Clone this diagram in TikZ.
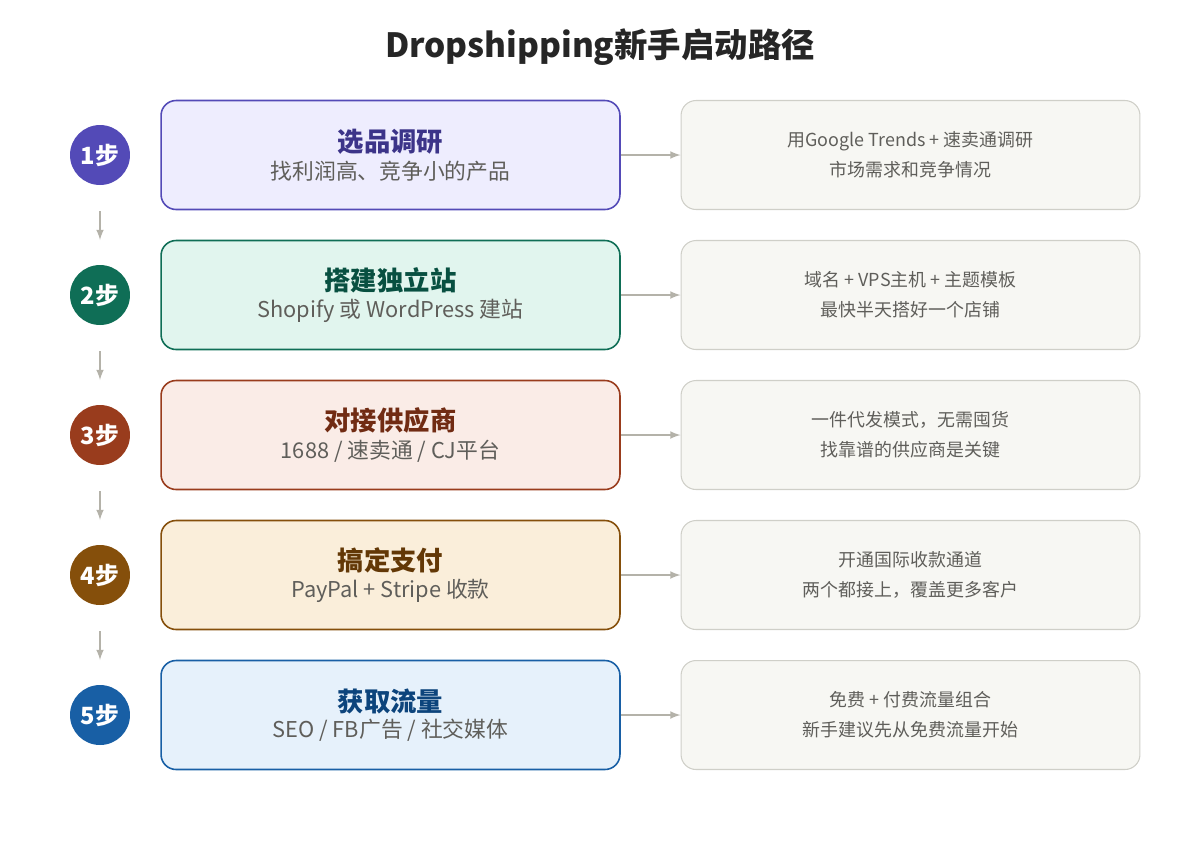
\documentclass[tikz,border=0pt]{standalone}
\usepackage{fontspec}
\setmainfont{Noto Sans CJK SC}
\usetikzlibrary{positioning}
\definecolor{pA}{HTML}{534AB7}\definecolor{pAf}{HTML}{EEEDFE}\definecolor{pAt}{HTML}{3C3489}
\definecolor{pB}{HTML}{0F6E56}\definecolor{pBf}{HTML}{E1F5EE}\definecolor{pBt}{HTML}{085041}
\definecolor{pC}{HTML}{993C1D}\definecolor{pCf}{HTML}{FAECE7}\definecolor{pCt}{HTML}{712B13}
\definecolor{pD}{HTML}{854F0B}\definecolor{pDf}{HTML}{FAEEDA}\definecolor{pDt}{HTML}{633806}
\definecolor{pE}{HTML}{185FA5}\definecolor{pEf}{HTML}{E6F1FB}\definecolor{pEt}{HTML}{0C447C}
\definecolor{note}{HTML}{F7F7F3}\definecolor{noteline}{HTML}{CFCFC8}
\definecolor{arr}{HTML}{B4B2A9}\definecolor{txt}{HTML}{5F5E5A}
\tikzset{
  stepdot/.style={circle, minimum size=1.2cm, inner sep=0pt, text=white, font=\fontsize{13.5}{15}\selectfont\bfseries},
  mainbox/.style={draw, rounded corners=0.3cm, line width=0.9pt, minimum width=9.18cm, minimum height=2.18cm, align=center},
  notebox/.style={draw=noteline, fill=note, rounded corners=0.3cm, line width=0.6pt, minimum width=9.18cm, minimum height=2.18cm, align=center, text=txt, font=\fontsize{10.2}{17}\selectfont},
  link/.style={draw=arr, line width=1pt, ->, >=latex},
}
\newcommand{\boxtext}[3]{{\color{#1}\fontsize{15}{18}\selectfont\bfseries #2}\\[3pt]{\color{txt}\fontsize{12.4}{15}\selectfont #3}}
\begin{document}
\begin{tikzpicture}[x=0.02cm,y=-0.02cm]
\useasboundingbox (0,0) rectangle (1200,850);
\node[font=\fontsize{19}{22}\selectfont\bfseries, text=black!85] (title) at (600,47) {Dropshipping新手启动路径};

\node[stepdot, fill=pA] (s1) at (100,155) {1步};
\node[stepdot, fill=pB] (s2) at (100,295) {2步};
\node[stepdot, fill=pC] (s3) at (100,435) {3步};
\node[stepdot, fill=pD] (s4) at (100,575) {4步};
\node[stepdot, fill=pE] (s5) at (100,715) {5步};

\node[mainbox, draw=pA, fill=pAf] (m1) at (390.5,155) {\boxtext{pAt}{选品调研}{找利润高、竞争小的产品}};
\node[mainbox, draw=pB, fill=pBf] (m2) at (390.5,295) {\boxtext{pBt}{搭建独立站}{Shopify 或 WordPress 建站}};
\node[mainbox, draw=pC, fill=pCf] (m3) at (390.5,435) {\boxtext{pCt}{对接供应商}{1688 / 速卖通 / CJ平台}};
\node[mainbox, draw=pD, fill=pDf] (m4) at (390.5,575) {\boxtext{pDt}{搞定支付}{PayPal + Stripe 收款}};
\node[mainbox, draw=pE, fill=pEf] (m5) at (390.5,715) {\boxtext{pEt}{获取流量}{SEO / FB广告 / 社交媒体}};

\node[notebox] (n1) at (910.5,155) {用Google Trends + 速卖通调研\\市场需求和竞争情况};
\node[notebox] (n2) at (910.5,295) {域名 + VPS主机 + 主题模板\\最快半天搭好一个店铺};
\node[notebox] (n3) at (910.5,435) {一件代发模式，无需囤货\\找靠谱的供应商是关键};
\node[notebox] (n4) at (910.5,575) {开通国际收款通道\\两个都接上，覆盖更多客户};
\node[notebox] (n5) at (910.5,715) {免费 + 付费流量组合\\新手建议先从免费流量开始};

% step to step
\path[link] (100,211) -- (100,240);
\path[link] (100,351) -- (100,380);
\path[link] (100,491) -- (100,520);
\path[link] (100,631) -- (100,660);

% box to note
\path[link] (m1) -- (n1);
\path[link] (m2) -- (n2);
\path[link] (m3) -- (n3);
\path[link] (m4) -- (n4);
\path[link] (m5) -- (n5);
\end{tikzpicture}
\end{document}
